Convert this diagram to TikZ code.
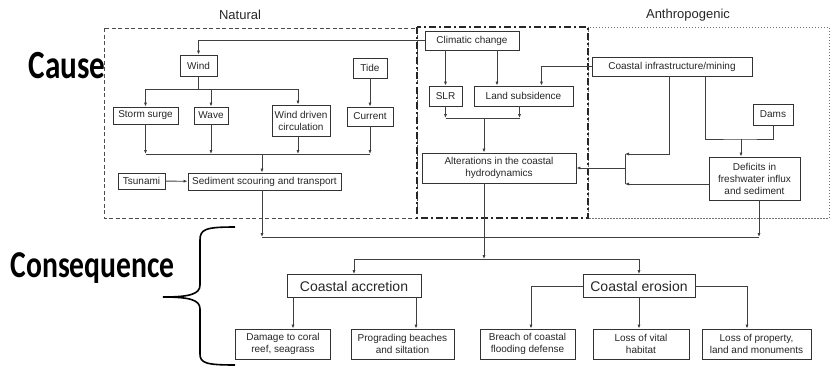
\documentclass[tikz,border=0pt]{standalone}
\usepackage{fontspec}
\setmainfont{Liberation Sans}
\newfontfamily\headfont[FakeStretch=0.78]{Carlito}
\usetikzlibrary{arrows.meta}

\begin{document}
\begin{tikzpicture}[x=1pt, y=-1pt,
    every node/.style={font=\fontsize{10}{12}\selectfont, text=black!85},
    box/.style={draw=black!80, line width=0.9pt, align=center, inner sep=1pt},
    bigbox/.style={box, font=\fontsize{14}{16}\selectfont},
    head/.style={text=black, anchor=base west},
    link/.style={draw=black!75, line width=0.8pt},
    arr/.style={link, -{Latex[length=4pt, width=3.2pt]}}]

    \useasboundingbox (0,0) rectangle (831,368);

    % frames
    \draw[black!70, line width=0.9pt, dash pattern=on 4pt off 2.5pt] (104,28) rectangle (417,218);
    \draw[black!55, line width=1pt, dash pattern=on 1.5pt off 1.5pt] (588,27) rectangle (829,218);
    \draw[black!85, line width=2pt, dash pattern=on 7pt off 3pt on 2pt off 3pt] (417,27) rectangle (588,218);

    % headings
    \node[head, font=\headfont\bfseries\fontsize{40}{40}\selectfont] (cause) at (25,78) {Cause};
    \node[head, font=\headfont\bfseries\fontsize{38}{38}\selectfont] (conseq) at (7,277) {Consequence};
    \node[font=\fontsize{13}{15}\selectfont] (natural) at (240,15) {Natural};
    \node[font=\fontsize{13}{15}\selectfont] (anthro) at (688,15) {Anthropogenic};

    % natural causes
    \node[box, minimum width=37, minimum height=21] (wind) at (198.5,65.5) {Wind};
    \node[box, minimum width=34, minimum height=20] (tide) at (370,68) {Tide};
    \node[box, minimum width=65, minimum height=17] (storm) at (145.5,115.5) {Storm surge};
    \node[box, minimum width=34, minimum height=17] (wave) at (211,115.5) {Wave};
    \node[box, minimum width=58, minimum height=31] (wdc) at (301,120.5) {Wind driven\\circulation};
    \node[box, minimum width=46, minimum height=19] (current) at (370,116.5) {Current};
    \node[box, minimum width=47, minimum height=16] (tsunami) at (141.5,181) {Tsunami};
    \node[box, minimum width=153, minimum height=17] (sediment) at (264.5,181.5) {Sediment scouring and transport};

    % climatic
    \node[box, minimum width=94, minimum height=19] (climatic) at (472,40.5) {Climatic change};
    \node[box, minimum width=33, minimum height=20] (slr) at (445.5,96) {SLR};
    \node[box, minimum width=99, minimum height=20] (landsub) at (523.5,96) {Land subsidence};
    \node[box, minimum width=154, minimum height=30] (alter) at (499,168) {Alterations in the coastal\\hydrodynamics};

    % anthropogenic
    \node[box, minimum width=160, minimum height=19] (infra) at (672,66.5) {Coastal infrastructure/mining};
    \node[box, minimum width=40, minimum height=21] (dams) at (773,114.5) {Dams};
    \node[box, minimum width=91, minimum height=43] (deficits) at (754.5,178.5) {Deficits in\\freshwater influx\\and sediment};

    % consequences
    \node[bigbox, minimum width=134, minimum height=23] (accretion) at (354,286) {Coastal accretion};
    \node[bigbox, minimum width=112, minimum height=23] (erosion) at (639,286) {Coastal erosion};
    \node[box, minimum width=95, minimum height=30] (damage) at (283,344) {Damage to coral\\reef, seagrass};
    \node[box, minimum width=103, minimum height=30] (prograd) at (402.5,344) {Prograding beaches\\and siltation};
    \node[box, minimum width=95, minimum height=30] (breach) at (527.5,344) {Breach of coastal\\flooding defense};
    \node[box, minimum width=96, minimum height=30] (habitat) at (641,344) {Loss of vital\\habitat};
    \node[box, minimum width=109, minimum height=30] (property) at (756.5,344) {Loss of property,\\land and monuments};

    % junction points
    \coordinate (windbus) at (198.5,89);
    \coordinate (natbus) at (262,154);
    \coordinate (slrbus) at (484,118);
    \coordinate (colltop) at (625,154);
    \coordinate (collbot) at (625,184);
    \coordinate (damjoin) at (741,139);
    \coordinate (mainbus) at (484,237);
    \coordinate (splitbus) at (484,259);

    % natural links
    \draw[arr] (climatic.west) -| (wind.north);
    \draw[link] (wind.south) -- (windbus);
    \draw[arr] (windbus) -| (storm.north);
    \draw[arr] (windbus) -| (wave.north);
    \draw[arr] (windbus) -| ([xshift=-3pt]wdc.north);
    \draw[arr] (tide) -- (current);
    \draw[arr] (storm.south) -- (storm.south |- natbus);
    \draw[arr] (wave.south) -- (wave.south |- natbus);
    \draw[arr] ([xshift=-3pt]wdc.south) -- ([xshift=-3pt]wdc.south |- natbus);
    \draw[arr] (current.south) -- (current.south |- natbus);
    \draw[link] (storm.south |- natbus) -- (current.south |- natbus);
    \draw[arr] (natbus) -- (natbus |- sediment.north);
    \draw[arr] (tsunami) -- (sediment);

    % climatic links
    \draw[arr] (climatic.south -| slr.north) -- (slr.north);
    \draw[arr] ([xshift=25pt]climatic.south) -- ([xshift=25pt]climatic.south |- landsub.north);
    \draw[arr] (infra.west) -| ([xshift=18pt]landsub.north);
    \draw[arr] (slr.south) -- (slr.south |- slrbus);
    \draw[arr] ([xshift=-4pt]landsub.south) -- ([xshift=-4pt]landsub.south |- slrbus);
    \draw[link] (slr.south |- slrbus) -- ([xshift=-4pt]landsub.south |- slrbus);
    \draw[arr] (slrbus) -- (slrbus |- alter.north);

    % anthropogenic links
    \draw[arr] ([xshift=-3pt]infra.south) |- (colltop);
    \draw[arr] ([yshift=-5.5pt]deficits.west) -- (collbot);
    \draw[link] (colltop) -- (collbot);
    \draw[arr] (colltop |- alter.east) -- (alter.east);
    \draw[link] ([xshift=33pt]infra.south) |- (damjoin) -| (dams.south);
    \draw[arr] (damjoin) -- (damjoin |- deficits.north);

    % consequence links
    \draw[arr] (sediment.south -| natbus) -- (natbus |- mainbus);
    \draw[arr] ([xshift=4.5pt]deficits.south) -- ([xshift=4.5pt]deficits.south |- mainbus);
    \draw[link] (natbus |- mainbus) -- ([xshift=4.5pt]deficits.south |- mainbus);
    \draw[arr] (alter.south -| splitbus) -- (splitbus);
    \draw[arr] (splitbus) -| (accretion.north);
    \draw[arr] (splitbus) -| (erosion.north);
    \draw[arr] ([xshift=-61pt]accretion.south) -- ([xshift=-61pt]accretion.south |- damage.north);
    \draw[arr] ([xshift=62pt]accretion.south) -- ([xshift=62pt]accretion.south |- prograd.north);
    \draw[arr] (erosion.west) -| ([xshift=3.5pt]breach.north);
    \draw[arr] (erosion.south) -- (erosion.south |- habitat.north);
    \draw[arr] (erosion.east) -| ([xshift=-9.5pt]property.north);

    % brace
    \draw[line width=1.6pt] (235,227) .. controls (206,227) and (200,229) .. (200,240) -- (200,285)
        .. controls (200,294) and (190,297) .. (163,297)
        .. controls (190,297) and (200,300) .. (200,309) -- (200,354)
        .. controls (200,363) and (206,365) .. (235,365);
\end{tikzpicture}
\end{document}
